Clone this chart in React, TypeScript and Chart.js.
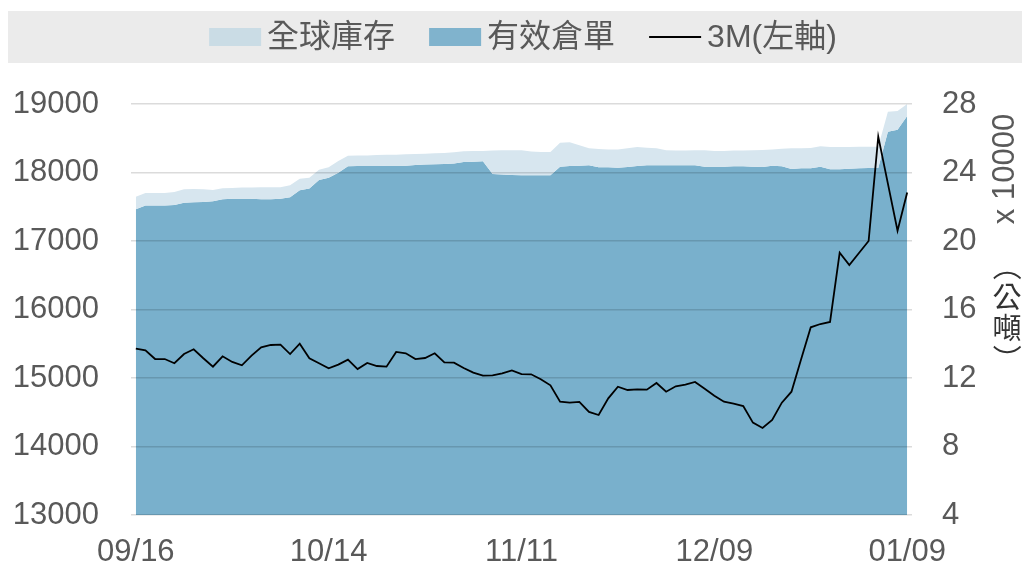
import React, { useEffect, useRef } from "react";
import { Chart, registerables } from "chart.js";

Chart.register(...registerables);

// Trading days (LME), 2019-09-16 .. 2020-01-09
const dates = [
  "09/16", "09/17", "09/18", "09/19", "09/20", "09/23", "09/24", "09/25", "09/26", "09/27",
  "09/30", "10/01", "10/02", "10/03", "10/04", "10/07", "10/08", "10/09", "10/10", "10/11",
  "10/14", "10/15", "10/16", "10/17", "10/18", "10/21", "10/22", "10/23", "10/24", "10/25",
  "10/28", "10/29", "10/30", "10/31", "11/01", "11/04", "11/05", "11/06", "11/07", "11/08",
  "11/11", "11/12", "11/13", "11/14", "11/15", "11/18", "11/19", "11/20", "11/21", "11/22",
  "11/25", "11/26", "11/27", "11/28", "11/29", "12/02", "12/03", "12/04", "12/05", "12/06",
  "12/09", "12/10", "12/11", "12/12", "12/13", "12/16", "12/17", "12/18", "12/19", "12/20",
  "12/23", "12/24", "12/27", "12/30", "12/31", "01/02", "01/03", "01/06", "01/07", "01/08",
  "01/09",
];

// 全球庫存 (x 10000 公噸)
const globalStock = [
  22.59, 22.8, 22.8, 22.8, 22.86, 23.02, 23.04, 23.02, 22.98, 23.08,
  23.1, 23.12, 23.12, 23.14, 23.14, 23.14, 23.25, 23.64, 23.7, 24.16,
  24.3, 24.67, 24.98, 25.0, 25.0, 25.02, 25.04, 25.04, 25.06, 25.08,
  25.1, 25.12, 25.14, 25.18, 25.24, 25.26, 25.26, 25.28, 25.3, 25.3,
  25.3, 25.22, 25.2, 25.2, 25.74, 25.76, 25.59, 25.41, 25.37, 25.35,
  25.35, 25.41, 25.49, 25.45, 25.41, 25.3, 25.28, 25.28, 25.3, 25.3,
  25.26, 25.26, 25.28, 25.28, 25.3, 25.31, 25.35, 25.39, 25.41, 25.41,
  25.43, 25.53, 25.49, 25.49, 25.49, 25.51, 25.51, 25.51, 27.55, 27.59,
  28.0,
];

// 有效倉單 (x 10000 公噸)
const warrants = [
  21.85, 22.08, 22.08, 22.08, 22.1, 22.24, 22.26, 22.28, 22.32, 22.44,
  22.46, 22.46, 22.46, 22.44, 22.44, 22.46, 22.55, 22.96, 23.06, 23.56,
  23.7, 23.99, 24.36, 24.38, 24.38, 24.38, 24.4, 24.4, 24.4, 24.44,
  24.46, 24.48, 24.5, 24.52, 24.61, 24.63, 24.65, 23.91, 23.89, 23.85,
  23.84, 23.84, 23.84, 23.84, 24.34, 24.38, 24.4, 24.42, 24.3, 24.3,
  24.28, 24.32, 24.38, 24.42, 24.42, 24.42, 24.42, 24.42, 24.42, 24.34,
  24.34, 24.34, 24.36, 24.36, 24.34, 24.32, 24.4, 24.36, 24.2, 24.25,
  24.25, 24.34, 24.19, 24.19, 24.22, 24.25, 24.26, 24.26, 26.38, 26.5,
  27.3,
];

// 3M price (left axis)
const lme3m = [
  15428, 15404, 15277, 15277, 15215, 15350, 15419, 15288, 15166, 15317,
  15234, 15185, 15326, 15448, 15482, 15486, 15350, 15501, 15288, 15215,
  15142, 15195, 15268, 15131, 15219, 15175, 15166, 15380, 15361, 15277,
  15292, 15361, 15229, 15224, 15146, 15078, 15034, 15039, 15068, 15112,
  15058, 15054, 14982, 14893, 14654, 14640, 14650, 14504, 14460, 14703,
  14873, 14825, 14835, 14830, 14927, 14800, 14879, 14903, 14942, 14844,
  14742, 14654, 14625, 14591, 14348, 14270, 14387, 14640, 14800, 15274,
  15740, 15788, 15818, 16829, 16650, 16825, 17000, 18523, 17837, 17150,
  17707,
];

const seriesNames = ["全球庫存", "有效倉單", "3M(左軸)"];
const leftAxisRange = [13000, 19000, 1000];
const rightAxisRange = [4, 28, 4];
const xLabelEvery = 20;
const rightTitle = "x 10000";
const rightUnitChars = ["（", "公", "噸", "）"];

const FONT = '"Liberation Sans", Arial, "Noto Sans CJK TC", sans-serif';
const TICK_COLOR = "#595959";
const LIGHT_FILL = "rgb(215,230,239)";
const DARK_FILL = "rgb(121,176,204)";
const LIGHT_SWATCH = "rgb(202,220,229)";
const DARK_SWATCH = "rgb(128,179,205)";

const bandLegend = {
  id: "bandLegend",
  afterDraw(chart: any) {
    const ctx = chart.ctx as CanvasRenderingContext2D;
    ctx.save();
    ctx.fillStyle = "#ebebeb";
    ctx.fillRect(8, 11, chart.width - 8, 52);
    ctx.font = `32px ${FONT}`;
    const sw = 52;
    const gap = 6;
    const spacing = 34;
    const items = chart.data.datasets.map((ds: any, i: number) => ({
      text: ds.label as string,
      kind: i === 2 ? "line" : "box",
      color: i === 0 ? LIGHT_SWATCH : i === 1 ? DARK_SWATCH : "#000",
      w: ctx.measureText(ds.label).width,
    }));
    let total = 0;
    items.forEach((it: any, i: number) => {
      total += sw + gap + it.w + (i > 0 ? spacing : 0);
    });
    let x = 523 - total / 2;
    items.forEach((it: any) => {
      if (it.kind === "box") {
        ctx.fillStyle = it.color;
        ctx.fillRect(x, 28, sw, 18);
      } else {
        ctx.strokeStyle = it.color;
        ctx.lineWidth = 2;
        ctx.beginPath();
        ctx.moveTo(x, 37);
        ctx.lineTo(x + sw, 37);
        ctx.stroke();
      }
      ctx.fillStyle = TICK_COLOR;
      ctx.textBaseline = "alphabetic";
      ctx.textAlign = "left";
      ctx.fillText(it.text, x + sw + gap, 47);
      x += sw + gap + it.w + spacing;
    });

    // right axis title
    ctx.save();
    ctx.translate(1005, 169);
    ctx.rotate(-Math.PI / 2);
    ctx.font = `31px ${FONT}`;
    ctx.fillStyle = TICK_COLOR;
    ctx.textAlign = "center";
    ctx.textBaseline = "middle";
    ctx.fillText(rightTitle, 0, 0);
    ctx.restore();

    ctx.font = '29px "Noto Sans CJK TC", sans-serif';
    ctx.fillStyle = "#333";
    ctx.textAlign = "center";
    ctx.textBaseline = "middle";
    const cx = 1007;
    const startY = 266;
    rightUnitChars.forEach((ch, i) => {
      const cy = startY + i * 31;
      ctx.save();
      ctx.translate(cx, cy);
      if (ch === "（" || ch === "）") ctx.rotate(Math.PI / 2);
      ctx.fillText(ch, 0, 0);
      ctx.restore();
    });
    ctx.restore();
  },
};

export default function App() {
  const ref = useRef<HTMLCanvasElement | null>(null);

  useEffect(() => {
    document.body.style.margin = "0";
    const canvas = ref.current;
    if (!canvas) return;
    const tickFont = { size: 31, family: FONT };
    const chart = new Chart(canvas, {
      type: "line",
      data: {
        labels: dates,
        datasets: [
          {
            label: seriesNames[0],
            data: globalStock,
            yAxisID: "y1",
            order: 1,
            backgroundColor: LIGHT_FILL,
            borderColor: "rgba(0,0,0,0)",
            borderWidth: 0,
            pointRadius: 0,
            fill: "+1",
            tension: 0,
          },
          {
            label: seriesNames[1],
            data: warrants,
            yAxisID: "y1",
            order: 2,
            backgroundColor: DARK_FILL,
            borderColor: "rgba(0,0,0,0)",
            borderWidth: 0,
            pointRadius: 0,
            fill: "start",
            tension: 0,
          },
          {
            label: seriesNames[2],
            data: lme3m,
            yAxisID: "y",
            order: 0,
            borderColor: "#000",
            backgroundColor: "#000",
            borderWidth: 1.8,
            pointRadius: 0,
            fill: false,
            tension: 0,
          },
        ],
      },
      options: {
        responsive: false,
        animation: false,
        devicePixelRatio: 1,
        layout: { padding: { top: 104, left: 0, right: 0, bottom: 0 } },
        plugins: {
          legend: { display: false },
          tooltip: { enabled: false },
        },
        scales: {
          x: {
            type: "category",
            offset: true,
            grid: { display: false, drawTicks: false },
            border: { display: false },
            ticks: {
              autoSkip: false,
              maxRotation: 0,
              minRotation: 0,
              padding: 19,
              color: TICK_COLOR,
              font: tickFont,
              callback: (_v: any, i: number) => (i % xLabelEvery === 0 ? dates[i] : ""),
            },
            afterFit: (s: any) => {
              s.height = 56;
            },
          },
          y: {
            position: "left",
            min: leftAxisRange[0],
            max: leftAxisRange[1],
            grid: { color: "rgba(0,0,0,0.14)", lineWidth: 1.5, drawTicks: false, z: 1 },
            border: { display: false },
            ticks: {
              stepSize: leftAxisRange[2],
              padding: 32,
              color: TICK_COLOR,
              font: tickFont,
              callback: (v: any) => String(v),
            },
            afterFit: (s: any) => {
              s.width = 131;
            },
          },
          y1: {
            position: "right",
            min: rightAxisRange[0],
            max: rightAxisRange[1],
            grid: { display: false, drawTicks: false },
            border: { display: false },
            ticks: {
              stepSize: rightAxisRange[2],
              padding: 30,
              color: TICK_COLOR,
              font: tickFont,
              callback: (v: any) => String(v),
            },
            afterFit: (s: any) => {
              s.width = 110;
            },
          },
        },
      },
      plugins: [bandLegend],
    } as any);
    return () => chart.destroy();
  }, []);

  return (
    <canvas
      ref={ref}
      width={1022}
      height={571}
      style={{ display: "block", width: 1022, height: 571 }}
    />
  );
}
